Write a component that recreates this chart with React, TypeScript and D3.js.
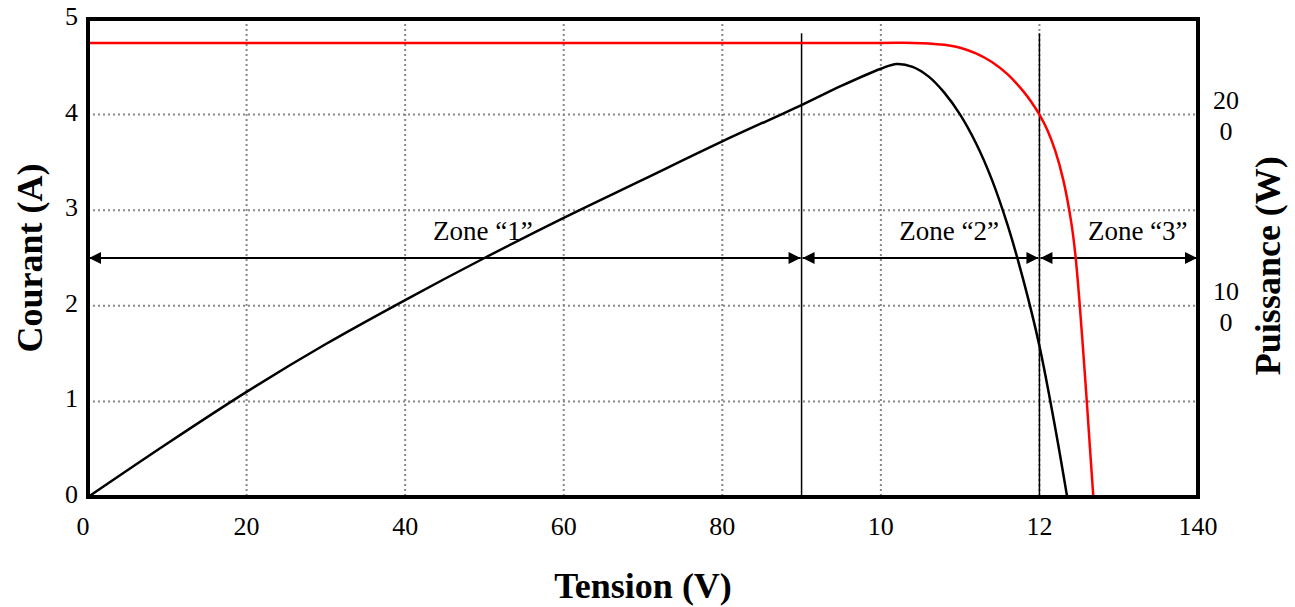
import React, { useEffect, useRef } from "react";
import * as d3 from "d3";

// I-V curve (red), current in A
const ivVolt = [0, 50, 100, 104, 106, 108, 110, 112, 114, 116, 118, 119, 120, 121, 122, 123, 124, 124.5, 125, 125.5, 126, 126.4, 126.8];
const ivCurr = [4.75, 4.75, 4.75, 4.75, 4.745, 4.73, 4.7, 4.64, 4.55, 4.42, 4.24, 4.13, 4.0, 3.84, 3.62, 3.32, 2.88, 2.56, 2.1, 1.55, 0.97, 0.48, 0];

// P-V curve (black), power in W
const pvVolt = [0, 10, 20, 30, 40, 50, 60, 70, 80, 90, 95, 100, 102, 104, 106, 108, 110, 112, 114, 116, 118, 120, 122, 123.5];
const pvPow = [0, 28, 55, 80, 103, 125, 146, 166, 186, 205, 215, 224, 226.5, 225, 220, 211.5, 200, 185, 166, 142, 113, 79, 36, 0];

const xTicks = [0, 20, 40, 60, 80, 100, 120, 140];
const xTickLabels = ["0", "20", "40", "60", "80", "10", "12", "140"];
const yTicks = [0, 1, 2, 3, 4, 5];
const powTicks = [100, 200];
const powTickLabels = [["10", "0"], ["20", "0"]];

const zoneBounds = [0, 90, 120, 140];
const zoneLabels = ["Zone \u201c1\u201d", "Zone \u201c2\u201d", "Zone \u201c3\u201d"];
const zoneLabelX = [49.8, 108.6, 132.4];

const App = () => {
  const svgRef = useRef<SVGSVGElement>(null);

  useEffect(() => {
    const width = 1295;
    const height = 607;
    const margin = { top: 19, right: 97, bottom: 110, left: 88 };
    const font = "'Liberation Serif', 'Times New Roman', serif";

    const svg = d3.select(svgRef.current)
      .attr("width", width)
      .attr("height", height);
    svg.selectAll("*").remove();

    const x = d3.scaleLinear().domain([0, 140]).range([margin.left, width - margin.right]);
    const y = d3.scaleLinear().domain([0, 5]).range([height - margin.bottom, margin.top]);
    const yP = d3.scaleLinear().domain([0, 250]).range([height - margin.bottom, margin.top]);

    const defs = svg.append("defs");
    ["arrEnd", "arrStart"].forEach((id) => {
      defs.append("marker")
        .attr("id", id)
        .attr("viewBox", "0 0 10 10")
        .attr("refX", 10)
        .attr("refY", 5)
        .attr("markerWidth", 8)
        .attr("markerHeight", 6)
        .attr("markerUnits", "strokeWidth")
        .attr("orient", id === "arrEnd" ? "auto" : "auto-start-reverse")
        .append("path")
        .attr("d", "M0,0 L10,5 L0,10 Z")
        .attr("fill", "#000");
    });

    // grid
    const grid = svg.append("g");
    grid.selectAll(".vg")
      .data(xTicks.slice(1, -1))
      .join("line")
      .attr("x1", (d) => x(d))
      .attr("x2", (d) => x(d))
      .attr("y1", y(5))
      .attr("y2", y(0))
      .attr("stroke", "#888")
      .attr("stroke-width", 2)
      .attr("stroke-dasharray", "2,3");
    grid.selectAll(".hg")
      .data(yTicks.slice(1, -1))
      .join("line")
      .attr("x1", x(0))
      .attr("x2", x(140))
      .attr("y1", (d) => y(d))
      .attr("y2", (d) => y(d))
      .attr("stroke", "#888")
      .attr("stroke-width", 2)
      .attr("stroke-dasharray", "2,3");

    // zone separators
    svg.selectAll(".sep")
      .data([90, 120])
      .join("line")
      .attr("x1", (d) => x(d))
      .attr("x2", (d) => x(d))
      .attr("y1", y(4.85))
      .attr("y2", y(0))
      .attr("stroke", "#000")
      .attr("stroke-width", 1.5);

    // zone arrows
    const zones = d3.range(zoneLabels.length);
    svg.selectAll(".arr")
      .data(zones)
      .join("line")
      .attr("x1", (i) => x(zoneBounds[i]) + 1)
      .attr("x2", (i) => x(zoneBounds[i + 1]) - 1)
      .attr("y1", y(2.5))
      .attr("y2", y(2.5))
      .attr("stroke", "#000")
      .attr("stroke-width", 2)
      .attr("marker-start", "url(#arrStart)")
      .attr("marker-end", "url(#arrEnd)");

    svg.selectAll(".zl")
      .data(zones)
      .join("text")
      .attr("x", (i) => x(zoneLabelX[i]))
      .attr("y", y(2.69))
      .attr("text-anchor", "middle")
      .attr("font-family", font)
      .attr("font-size", 27)
      .text((i) => zoneLabels[i]);

    // curves
    const line = d3.line<number>().curve(d3.curveCatmullRom.alpha(0.5));
    svg.append("path")
      .attr("d", line.x((_, i) => x(pvVolt[i])).y((d) => yP(d))(pvPow))
      .attr("fill", "none")
      .attr("stroke", "#000")
      .attr("stroke-width", 2.5);
    svg.append("path")
      .attr("d", line.x((_, i) => x(ivVolt[i])).y((d) => y(d))(ivCurr))
      .attr("fill", "none")
      .attr("stroke", "#ff0000")
      .attr("stroke-width", 2.5);

    // frame
    svg.append("rect")
      .attr("x", x(0))
      .attr("y", y(5))
      .attr("width", x(140) - x(0))
      .attr("height", y(0) - y(5))
      .attr("fill", "none")
      .attr("stroke", "#000")
      .attr("stroke-width", 4);

    // tick labels
    svg.selectAll(".yt")
      .data(yTicks)
      .join("text")
      .attr("x", x(0) - 10)
      .attr("y", (d) => y(d) + 6)
      .attr("text-anchor", "end")
      .attr("font-family", font)
      .attr("font-size", 26)
      .text((d) => d);

    svg.selectAll(".xt")
      .data(xTicks)
      .join("text")
      .attr("x", (d, i) => (i === 0 ? x(d) - 5 : x(d)))
      .attr("y", y(0) + 38)
      .attr("text-anchor", "middle")
      .attr("font-family", font)
      .attr("font-size", 26)
      .text((_, i) => xTickLabels[i]);

    const pt = svg.selectAll(".pt")
      .data(powTicks)
      .join("text")
      .attr("x", x(140) + 28)
      .attr("y", (d) => yP(d) - 6)
      .attr("text-anchor", "middle")
      .attr("font-family", font)
      .attr("font-size", 26);
    pt.append("tspan").text((_, i) => powTickLabels[i][0]);
    pt.append("tspan")
      .attr("x", x(140) + 28)
      .attr("dy", 31)
      .text((_, i) => powTickLabels[i][1]);

    // axis titles
    svg.append("text")
      .attr("x", (x(0) + x(140)) / 2)
      .attr("y", 598)
      .attr("text-anchor", "middle")
      .attr("font-family", font)
      .attr("font-weight", "bold")
      .attr("font-size", 36)
      .text("Tension (V)");
    svg.append("text")
      .attr("transform", `translate(42,${y(2.5)}) rotate(-90)`)
      .attr("text-anchor", "middle")
      .attr("font-family", font)
      .attr("font-weight", "bold")
      .attr("font-size", 36)
      .text("Courant (A)");
    svg.append("text")
      .attr("transform", `translate(1280,${y(2.42)}) rotate(-90)`)
      .attr("text-anchor", "middle")
      .attr("font-family", font)
      .attr("font-weight", "bold")
      .attr("font-size", 36)
      .text("Puissance (W)");
  }, []);

  return (
    <svg ref={svgRef} style={{ position: "absolute", left: 0, top: 0, background: "#fff" }} />
  );
};

export default App;
